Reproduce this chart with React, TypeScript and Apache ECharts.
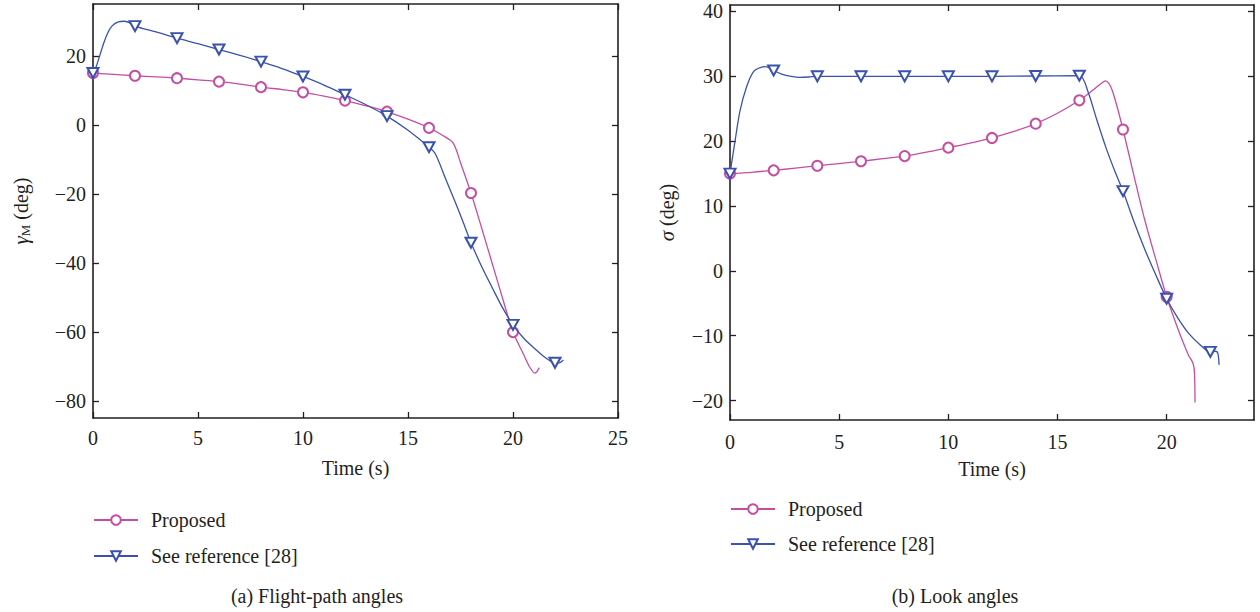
import { useEffect, useRef } from 'react';
import * as echarts from 'echarts';

const MAGENTA = '#c54ea3';
const BLUE = '#3a52ad';
const INK = '#231f20';
const FONT = "'Liberation Serif', 'Times New Roman', serif";

// (a) Flight-path angle, proposed guidance law
const gammaPropT = [0, 1, 2, 3, 4, 5, 6, 7, 8, 9, 10, 11, 12, 13, 14, 15, 16, 16.6, 17.15, 17.5, 18, 18.5, 19, 19.5, 20, 20.5, 20.8, 21.05, 21.25];
const gammaPropV = [15, 14.6, 14.2, 13.9, 13.5, 13.0, 12.5, 11.8, 10.9, 10.2, 9.4, 8.3, 7.0, 5.5, 3.8, 1.6, -0.9, -2.9, -5.3, -11.0, -19.8, -29.8, -40.0, -50.2, -60.1, -66.5, -70.3, -72.0, -70.4];

// (a) Flight-path angle, law of reference [28]
const gammaRefT = [0, 0.15, 0.3, 0.5, 0.7, 0.9, 1.2, 1.5, 1.8, 2, 3, 4, 5, 6, 7, 8, 9, 10, 11, 12, 13, 14, 15, 16, 16.3, 16.8, 17.3, 17.6, 18, 18.5, 19, 19.5, 20, 20.5, 21, 21.5, 22, 22.2, 22.4];
const gammaRefV = [15, 16.8, 19.6, 23.5, 26.6, 28.6, 29.8, 30.0, 29.4, 28.6, 26.9, 25.1, 23.5, 21.8, 20.1, 18.3, 16.3, 14.0, 11.5, 8.7, 5.8, 2.5, -1.6, -6.5, -8.4, -15.8, -23.2, -27.8, -34.2, -41.0, -47.1, -53.0, -58.0, -61.8, -64.7, -67.3, -69.0, -69.0, -68.2];

// (b) Look angle, proposed guidance law
const sigmaPropT = [0, 1, 2, 3, 4, 5, 6, 7, 8, 9, 10, 11, 12, 13, 14, 15, 16, 16.6, 17.0, 17.2, 17.35, 17.5, 17.7, 18, 18.5, 19, 19.5, 20, 20.5, 21, 21.2, 21.27, 21.3];
const sigmaPropV = [15, 15.2, 15.5, 15.85, 16.2, 16.55, 16.9, 17.3, 17.7, 18.3, 19.0, 19.7, 20.5, 21.5, 22.7, 24.3, 26.3, 27.8, 28.9, 29.3, 28.9, 27.9, 25.7, 21.8, 14.7, 7.8, 1.8, -4.0, -8.8, -13.0, -14.2, -15.5, -20.3];

// (b) Look angle, law of reference [28]
const sigmaRefT = [0, 0.23, 0.46, 0.76, 1.07, 1.35, 1.6, 1.9, 2, 2.4, 2.8, 3.2, 3.6, 4, 6, 8, 10, 12, 14, 16, 16.4, 16.8, 17.2, 17.6, 18, 18.5, 19, 19.5, 20, 20.5, 21, 21.5, 22, 22.25, 22.35, 22.4];
const sigmaRefV = [15, 20.0, 24.7, 28.4, 30.7, 31.3, 31.5, 31.2, 30.9, 30.3, 30.0, 29.85, 29.9, 30.0, 30.0, 30.0, 30.0, 30.0, 30.05, 30.1, 27.6, 23.3, 19.2, 15.6, 12.3, 7.6, 3.3, -0.6, -4.3, -7.2, -9.6, -11.3, -12.5, -12.4, -12.8, -14.5];

// axis ticks
const gammaTicks = [-80, -60, -40, -20, 0, 20];
const sigmaTicks = [-20, -10, 0, 10, 20, 30, 40];
const timeTicksA = [0, 5, 10, 15, 20, 25];
const timeTicksB = [0, 5, 10, 15, 20];

const seriesNames = ['Proposed', 'See reference [28]'];

// markers are shown every 2 s; the remaining samples only shape the curve
function toData(ts: number[], vs: number[]) {
  return ts.map((t, i) => {
    const marked = Math.abs(t / 2 - Math.round(t / 2)) < 1e-9;
    return marked ? { value: [t, vs[i]] } : { value: [t, vs[i]], symbol: 'none' };
  });
}

const minus = (v: number) => String(v).replace('-', '\u2212');

function makeXAxis(grid: number, max: number, ticks: number[], bottom: boolean, nameGap: number, labelMargin: number) {
  return {
    gridIndex: grid,
    type: 'value',
    min: 0,
    max,
    position: bottom ? 'bottom' : 'top',
    axisLine: { show: true, onZero: false, lineStyle: { color: INK, width: 1.6 } },
    axisTick: { show: true, inside: true, length: 6, customValues: ticks, lineStyle: { color: INK, width: 1.3 } },
    axisLabel: {
      show: bottom,
      customValues: ticks,
      margin: labelMargin,
      color: INK,
      fontFamily: FONT,
      fontSize: 20,
      formatter: (v: number) => minus(v),
    },
    splitLine: { show: false },
    name: bottom ? 'Time (s)' : '',
    nameLocation: 'middle',
    nameGap,
    nameTextStyle: { color: INK, fontFamily: FONT, fontSize: 20 },
  };
}

function makeYAxis(grid: number, min: number, max: number, ticks: number[], left: boolean, name: string, nameGap: number, rich: any) {
  return {
    gridIndex: grid,
    type: 'value',
    min,
    max,
    position: left ? 'left' : 'right',
    axisLine: { show: true, onZero: false, lineStyle: { color: INK, width: 1.6 } },
    axisTick: { show: true, inside: true, length: 6, customValues: ticks, lineStyle: { color: INK, width: 1.3 } },
    axisLabel: {
      show: left,
      customValues: ticks,
      margin: 7,
      color: INK,
      fontFamily: FONT,
      fontSize: 20,
      formatter: (v: number) => minus(v),
    },
    splitLine: { show: false },
    name: left ? name : '',
    nameLocation: 'middle',
    nameRotate: 90,
    nameGap,
    nameTextStyle: { color: INK, fontFamily: FONT, fontSize: 20, rich },
  };
}

function lineSeries(name: string, grid: number, ts: number[], vs: number[], color: string) {
  const isRef = name !== 'Proposed';
  return {
    type: 'line',
    name,
    xAxisIndex: grid * 2,
    yAxisIndex: grid * 2,
    data: toData(ts, vs),
    smooth: 0.3,
    showAllSymbol: true,
    symbol: isRef ? 'emptyTriangle' : 'emptyCircle',
    symbolRotate: isRef ? 180 : 0,
    symbolSize: isRef ? [11, 10] : 10,
    lineStyle: { color, width: 1.3 },
    itemStyle: { color, borderWidth: 1.2 },
    z: isRef ? 3 : 2,
  };
}

export default function App() {
  const ref = useRef<HTMLDivElement>(null);

  useEffect(() => {
    if (!ref.current) return;
    const chart = echarts.init(ref.current, null, { renderer: 'svg' });

    const richBase = { fontFamily: FONT, color: INK };
    const gammaRich = {
      g: { ...richBase, fontSize: 21, fontStyle: 'italic', lineHeight: 23 },
      m: { ...richBase, fontSize: 13, lineHeight: 13, verticalAlign: 'bottom' },
      t: { ...richBase, fontSize: 20, lineHeight: 23 },
    };
    const sigmaRich = {
      g: { ...richBase, fontSize: 21, fontStyle: 'italic', lineHeight: 23 },
      t: { ...richBase, fontSize: 20, lineHeight: 23 },
    };

    const legendCommon = {
      orient: 'vertical',
      data: seriesNames,
      itemWidth: 44,
      itemHeight: 12,
      padding: 0,
      selectedMode: false,
      textStyle: { color: INK, fontFamily: FONT, fontSize: 20, padding: [0, 0, 0, 8] },
    };

    chart.setOption({
      animation: false,
      backgroundColor: '#ffffff',
      grid: [
        { left: 93, top: 4, width: 525, height: 414 },
        { left: 730, top: 5, width: 524, height: 415 },
      ],
      xAxis: [
        makeXAxis(0, 25, timeTicksA, true, 40, 10),
        makeXAxis(0, 25, timeTicksA, false, 0, 10),
        makeXAxis(1, 24, timeTicksB, true, 39, 12),
        makeXAxis(1, 24, timeTicksB, false, 0, 12),
      ],
      yAxis: [
        makeYAxis(0, -85, 35, gammaTicks, true, '{g|γ}{m|M}{t| (deg)}', 61, gammaRich),
        makeYAxis(0, -85, 35, gammaTicks, false, '', 0, gammaRich),
        makeYAxis(1, -23, 41, sigmaTicks, true, '{g|σ}{t| (deg)}', 52, sigmaRich),
        makeYAxis(1, -23, 41, sigmaTicks, false, '', 0, sigmaRich),
      ],
      legend: [
        { ...legendCommon, left: 93, top: 510, itemGap: 16 },
        { ...legendCommon, left: 730, top: 499, itemGap: 15 },
      ],
      series: [
        lineSeries('Proposed', 0, gammaPropT, gammaPropV, MAGENTA),
        lineSeries('See reference [28]', 0, gammaRefT, gammaRefV, BLUE),
        lineSeries('Proposed', 1, sigmaPropT, sigmaPropV, MAGENTA),
        lineSeries('See reference [28]', 1, sigmaRefT, sigmaRefV, BLUE),
      ],
      graphic: [
        {
          type: 'text',
          x: 317,
          y: 596,
          style: { text: '(a) Flight-path angles', align: 'center', verticalAlign: 'middle', fill: INK, fontFamily: FONT, fontSize: 20 },
        },
        {
          type: 'text',
          x: 955,
          y: 596,
          style: { text: '(b) Look angles', align: 'center', verticalAlign: 'middle', fill: INK, fontFamily: FONT, fontSize: 20 },
        },
      ],
    });

    return () => chart.dispose();
  }, []);

  return (
    <div
      ref={ref}
      style={{ position: 'fixed', left: 0, top: 0, width: 1260, height: 612, background: '#fff' }}
    />
  );
}
